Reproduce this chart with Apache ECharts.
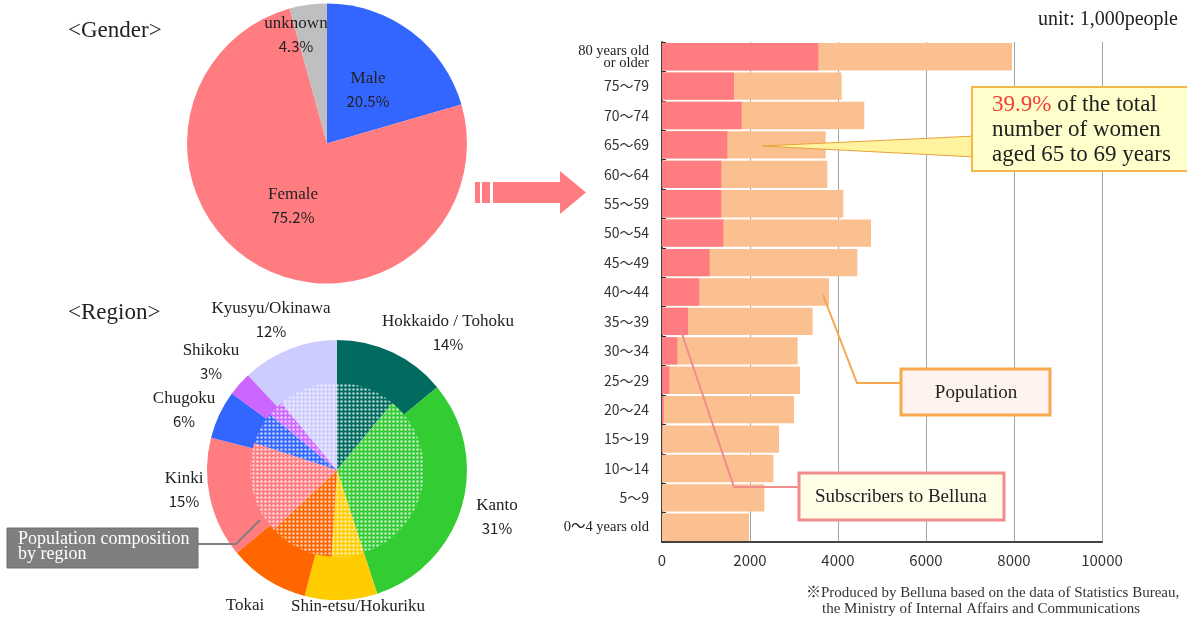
<!DOCTYPE html>
<html>
<head>
<meta charset="utf-8">
<script src="https://cdn.jsdelivr.net/npm/echarts@6/dist/echarts.min.js"></script>
<style>
  html, body { margin: 0; padding: 0; background: #fff; }
  #main { width: 1187px; height: 622px; }
</style>
</head>
<body>
<div id="main"></div>
<script>
// gender breakdown of subscribers (%)
const genderNames = ['Male', 'Female', 'unknown'];
const genderShare = [20.5, 75.2, 4.3];

// region breakdown: outer ring = subscribers, inner pie = population composition
const regionNames = ['Hokkaido / Tohoku', 'Kanto', 'Shin-etsu/Hokuriku', 'Tokai', 'Kinki', 'Chugoku', 'Shikoku', 'Kyusyu/Okinawa'];
const subscriberShare = [14, 31, 9, 10, 15, 6, 3, 12];
const populationShare = [11, 34, 6, 12, 17, 6, 3, 11];

// women by age group, unit 1,000 people
const ageGroups = ['0～4 years old', '5～9', '10～14', '15～19', '20～24', '25～29', '30～34', '35～39', '40～44',
  '45～49', '50～54', '55～59', '60～64', '65～69', '70～74', '75～79', '80 years old\nor older'];
const population = [1977, 2326, 2530, 2659, 3000, 3136, 3083, 3424, 3795, 4439, 4750, 4121, 3758, 3720, 4598, 4083, 7955];
const subscribers = [0, 0, 0, 10, 40, 167, 348, 591, 848, 1083, 1394, 1348, 1348, 1485, 1811, 1636, 3553];
const xTicks = [0, 10000, 2000];  // min, max, interval

const SERIF = "'Liberation Serif', 'DejaVu Serif', 'Noto Sans CJK JP', serif";
const SANS = "'Noto Sans CJK JP', 'Noto Sans', sans-serif";

const genderColors = ['#3366FF', '#FF7C80', '#BFBFBF'];
const regionColors = ['#006B5E', '#33CC33', '#FFCC00', '#FF6600', '#FF7C80', '#3366FF', '#CC66FF', '#CCCCFF'];

// label anchor points (pixel positions of each two-line label)
const genderLabelPos = [[368, 90], [293, 206], [296, 35]];
const regionLabelPos = [[448, 333], [497, 517], [358, 618], [245, 617], [184, 490], [184, 410], [211, 362], [271, 320]];

const labelRich = {
  n: { fontFamily: SERIF, fontSize: 17, color: '#222', lineHeight: 22 },
  p: { fontFamily: SANS, fontSize: 15, color: '#222', lineHeight: 22 }
};

window.addEventListener('DOMContentLoaded', function () {
  const chart = echarts.init(document.getElementById('main'), null, { renderer: 'canvas' });

  const option = {
    animation: false,
    backgroundColor: '#fff',
    grid: { left: 662, right: 85, top: 42, bottom: 80 },
    xAxis: {
      type: 'value',
      min: xTicks[0], max: xTicks[1], interval: xTicks[2],
      axisLine: { show: true, lineStyle: { color: '#444', width: 2 } },
      axisTick: { show: false },
      axisLabel: { fontFamily: SANS, fontSize: 15, color: '#333', margin: 11, formatter: (v) => String(v) },
      splitLine: { show: true, lineStyle: { color: '#A6A6A6', width: 1 } }
    },
    yAxis: {
      type: 'category',
      data: ageGroups,
      axisLine: { show: true, lineStyle: { color: '#444', width: 2 } },
      axisTick: { show: true, inside: true, length: 4, lineStyle: { color: '#333' } },
      axisLabel: {
        margin: 13,
        formatter: function (v) {
          return v.indexOf('years') >= 0 ? '{s|' + v.replace('\n', '}\n{s|') + '}' : '{d|' + v + '}';
        },
        rich: {
          s: { fontFamily: SERIF, fontSize: 14.5, color: '#222', lineHeight: 12 },
          d: { fontFamily: SANS, fontSize: 14, color: '#333' }
        }
      }
    },
    series: [
      {
        name: 'Gender',
        type: 'pie',
        silent: true,
        center: [327, 143.5],
        radius: 140,
        startAngle: 90,
        data: genderNames.map((n, i) => ({ name: n, value: genderShare[i] })),
        itemStyle: { color: (p) => genderColors[p.dataIndex], borderWidth: 0 },
        label: {
          position: 'inside',
          formatter: (p) => '{n|' + p.name + '}\n{p|' + p.value.toFixed(1) + '%}',
          rich: labelRich,
          align: 'center'
        },
        labelLine: { show: false },
        labelLayout: (p) => ({ x: genderLabelPos[p.dataIndex][0], y: genderLabelPos[p.dataIndex][1], align: 'center', verticalAlign: 'middle' })
      },
      {
        name: 'Subscribers by region',
        type: 'pie',
        silent: true,
        center: [337, 470],
        radius: [86, 130],
        startAngle: 90,
        data: regionNames.map((n, i) => ({ name: n, value: subscriberShare[i] })),
        itemStyle: { color: (p) => regionColors[p.dataIndex], borderWidth: 0 },
        label: {
          position: 'outside',
          formatter: (p) => '{n|' + p.name + '}\n{p|' + p.value + '%}',
          rich: labelRich,
          align: 'center'
        },
        labelLine: { show: false },
        labelLayout: (p) => ({ x: regionLabelPos[p.dataIndex][0], y: regionLabelPos[p.dataIndex][1], align: 'center', verticalAlign: 'middle' })
      },
      {
        name: 'Population composition by region',
        type: 'pie',
        silent: true,
        center: [337, 470],
        radius: [0, 87],
        startAngle: 90,
        data: regionNames.map((n, i) => ({ name: n, value: populationShare[i] })),
        itemStyle: {
          color: (p) => regionColors[p.dataIndex],
          borderWidth: 0,
          decal: {
            symbol: 'circle',
            symbolSize: 0.85,
            color: 'rgba(255,255,255,0.7)',
            dashArrayX: [2.5, 0.5],
            dashArrayY: [2.5, 0.5]
          }
        },
        label: { show: false },
        labelLine: { show: false }
      },
      {
        name: 'Population',
        type: 'bar',
        silent: true,
        data: population,
        barCategoryGap: '7%',
        itemStyle: { color: '#FAC090' }
      },
      {
        name: 'Subscribers to Belluna',
        type: 'bar',
        silent: true,
        data: subscribers,
        barGap: '-100%',
        barCategoryGap: '7%',
        itemStyle: { color: '#FF7C80' }
      }
    ],
    graphic: [
      { type: 'text', z: 100, x: 68, y: 31, style: { text: '<Gender>', font: '23px ' + SERIF, fill: '#222', verticalAlign: 'middle' } },
      { type: 'text', z: 100, x: 68, y: 313, style: { text: '<Region>', font: '23px ' + SERIF, fill: '#222', verticalAlign: 'middle' } },
      { type: 'text', z: 100, x: 1178, y: 20, style: { text: 'unit: 1,000people', font: '20px ' + SERIF, fill: '#222', align: 'right', verticalAlign: 'middle' } },
      // arrow from gender pie to the age chart
      { type: 'rect', z: 100, shape: { x: 475, y: 182, width: 5, height: 21 }, style: { fill: '#FF7C80' } },
      { type: 'rect', z: 100, shape: { x: 482, y: 182, width: 8, height: 21 }, style: { fill: '#FF7C80' } },
      { type: 'polygon', z: 100, shape: { points: [[493, 182], [560, 182], [560, 171], [586, 192.5], [560, 214], [560, 203], [493, 203]] }, style: { fill: '#FF7C80' } },
      // population composition tag
      { type: 'polyline', z: 100, shape: { points: [[198, 544], [236, 544], [260, 520]] }, style: { stroke: '#7F7F7F', lineWidth: 2, fill: null } },
      { type: 'rect', z: 100, shape: { x: 7, y: 528, width: 191, height: 40 }, style: { fill: '#7F7F7F', stroke: '#6E6E6E', lineWidth: 1 } },
      { type: 'text', z: 101, x: 18, y: 532, style: { text: 'Population composition\nby region', font: '18px ' + SERIF, fill: '#fff', lineHeight: 15 } },
      // 39.9% callout
      { type: 'polygon', z: 100, shape: { points: [[762, 146], [976, 136], [976, 157]] }, style: { fill: '#FFF3A0', stroke: '#E9A23A', lineWidth: 1 } },
      { type: 'rect', z: 101, shape: { x: 972, y: 87, width: 220, height: 84 }, style: { fill: '#FFFFCC', stroke: '#F2B84B', lineWidth: 2 } },
      {
        type: 'text', z: 102, x: 992, y: 92,
        style: {
          text: '{r|39.9%} of the total\nnumber of women\naged 65 to 69 years',
          font: '23px ' + SERIF, fill: '#222', lineHeight: 25,
          rich: { r: { fill: '#F03C3C', font: '23px ' + SERIF } }
        }
      },
      // population tag
      { type: 'polyline', z: 100, shape: { points: [[823, 295], [857, 383], [900, 383]] }, style: { stroke: '#F5A84E', lineWidth: 2, fill: null } },
      { type: 'rect', z: 101, shape: { x: 901, y: 369, width: 149, height: 46 }, style: { fill: '#FDF3EC', stroke: '#F5A84E', lineWidth: 3 } },
      { type: 'text', z: 102, x: 976, y: 393, style: { text: 'Population', font: '19px ' + SERIF, fill: '#222', align: 'center', verticalAlign: 'middle' } },
      // subscribers tag
      { type: 'polyline', z: 100, shape: { points: [[680, 328], [734, 487], [798, 487]] }, style: { stroke: '#F08C8C', lineWidth: 2, fill: null } },
      { type: 'rect', z: 101, shape: { x: 799, y: 473, width: 205, height: 47 }, style: { fill: '#FFFFE8', stroke: '#F08C8C', lineWidth: 3 } },
      { type: 'text', z: 102, x: 901, y: 497, style: { text: 'Subscribers to Belluna', font: '19px ' + SERIF, fill: '#222', align: 'center', verticalAlign: 'middle' } },
      // source note
      { type: 'text', z: 100, x: 806, y: 593, style: { text: '※Produced by Belluna based on the data of Statistics Bureau,', font: '15px ' + SERIF, fill: '#333', verticalAlign: 'middle' } },
      { type: 'text', z: 100, x: 822, y: 609, style: { text: 'the Ministry of Internal Affairs and Communications', font: '15px ' + SERIF, fill: '#333', verticalAlign: 'middle' } }
    ]
  };

  chart.setOption(option);
}, false);
</script>
</body>
</html>
